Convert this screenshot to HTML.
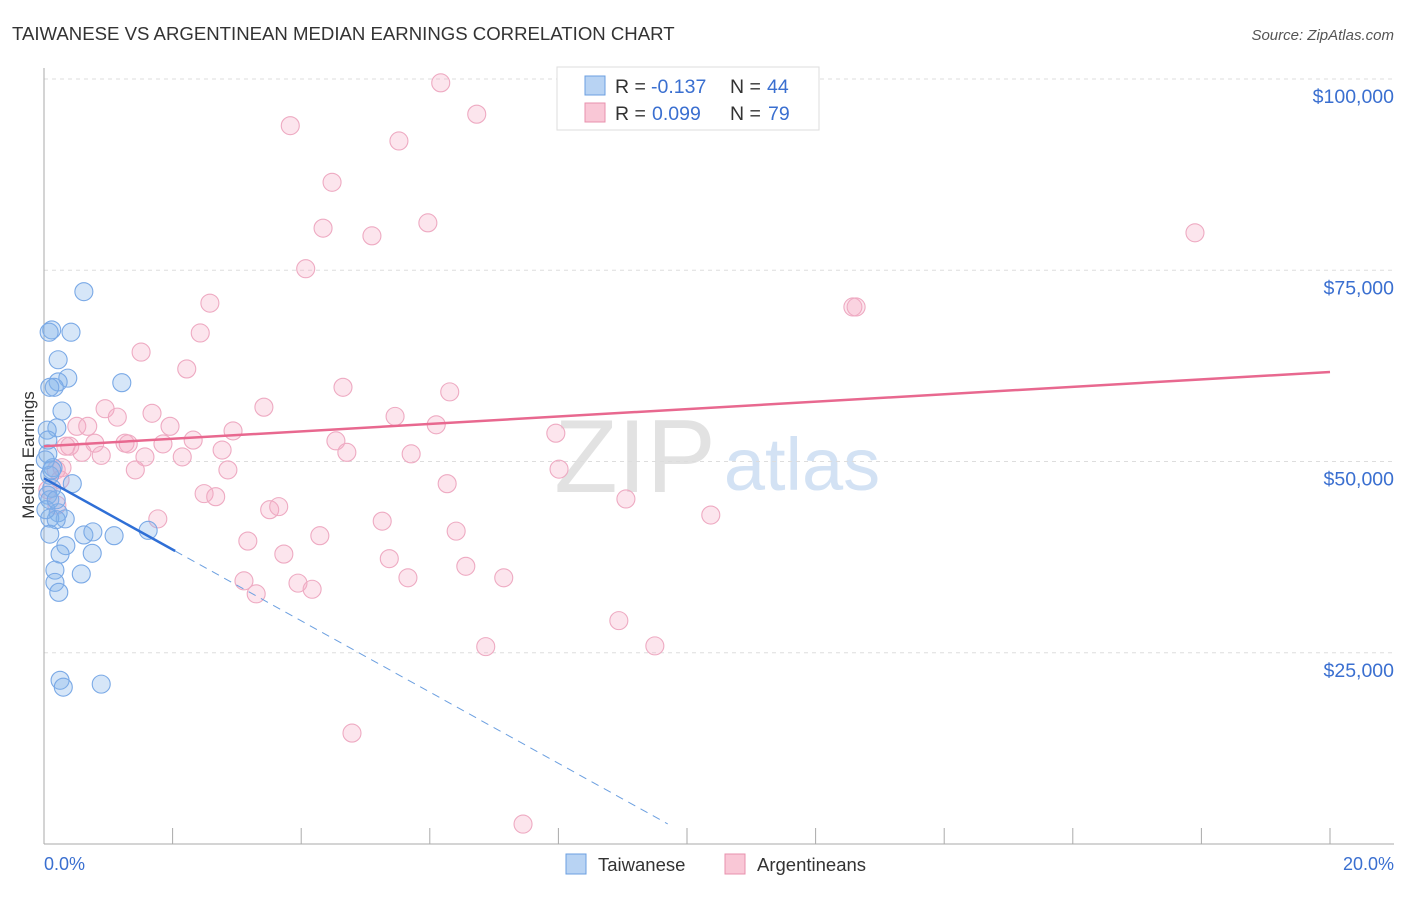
<!DOCTYPE html>
<html><head><meta charset="utf-8"><style>
body{margin:0;background:#fff;font-family:"Liberation Sans",sans-serif;}
svg text{font-family:"Liberation Sans",sans-serif;}
</style></head><body>
<svg id="chart" width="1406" height="892" xmlns="http://www.w3.org/2000/svg">
<text x="12" y="40" font-size="18.6" fill="#333">TAIWANESE VS ARGENTINEAN MEDIAN EARNINGS CORRELATION CHART</text>
<text x="1394" y="40" font-size="15" fill="#555" text-anchor="end" font-style="italic">Source: ZipAtlas.com</text>
<g>
<text x="635" y="492" font-size="104" fill="#e2e2e2" text-anchor="middle" font-family="Liberation Serif">ZIP</text>
<text x="802" y="490" font-size="74" fill="#d3e2f4" text-anchor="middle">atlas</text>
</g>
<g id="grid"></g>
<g id="axes"></g>
<g id="points"></g>
<g id="trends"></g>
<text transform="translate(34,455) rotate(-90)" font-size="17" fill="#333" text-anchor="middle">Median Earnings</text>
<text x="44" y="870" font-size="18" fill="#3a6fd0">0.0%</text>
<text x="1394" y="870" font-size="18" fill="#3a6fd0" text-anchor="end">20.0%</text>
<g>
<rect x="557" y="67" width="262" height="63" fill="#fff" stroke="#ddd"/>
<rect x="585" y="76" width="20" height="19" fill="#b8d3f3" stroke="#6b9fe0"/>
<rect x="585" y="103" width="20" height="19" fill="#f9c7d6" stroke="#e891ad"/>
<text x="615" y="93" font-size="19.5" fill="#333">R =</text>
<text x="651" y="93" font-size="19.5" fill="#3a6fd0">-0.137</text>
<text x="730" y="93" font-size="19.5" fill="#333">N =</text>
<text x="767" y="93" font-size="19.5" fill="#3a6fd0">44</text>
<text x="615" y="120" font-size="19.5" fill="#333">R =</text>
<text x="652" y="120" font-size="19.5" fill="#3a6fd0">0.099</text>
<text x="730" y="120" font-size="19.5" fill="#333">N =</text>
<text x="768" y="120" font-size="19.5" fill="#3a6fd0">79</text>
</g>
<g>
<rect x="566" y="854" width="20" height="20" fill="#b8d3f3" stroke="#6b9fe0"/>
<text x="598" y="871" font-size="18.5" fill="#333">Taiwanese</text>
<rect x="725" y="854" width="20" height="20" fill="#f9c7d6" stroke="#e891ad"/>
<text x="757" y="871" font-size="18.5" fill="#333">Argentineans</text>
</g>
</svg>
<script>
const yTicks=[25000,50000,75000,100000];
const yTickLabels=["$25,000","$50,000","$75,000","$100,000"];
const xTicks=[0,2,4,6,8,10,12,14,16,18,20];
const twX=[0.62,0.12,0.42,0.08,0.22,0.37,1.21,0.22,0.16,0.09,0.28,0.20,0.05,0.06,0.14,0.44,0.09,0.12,0.06,0.09,0.33,0.22,0.09,0.19,0.62,0.76,1.09,1.62,0.09,0.34,0.25,0.75,0.17,0.58,0.17,0.23,0.25,0.30,0.89,0.02,0.03,0.06,0.12,0.19];
const twY=[72.2,67.2,66.9,66.9,63.3,60.9,60.3,60.4,59.7,59.7,56.6,54.4,54.1,51.0,49.2,47.1,48.2,46.5,45.6,45.0,42.5,43.3,42.6,42.4,40.4,40.8,40.3,41.0,40.5,39.0,37.9,38.0,35.8,35.3,34.2,32.9,21.4,20.5,20.9,50.2,43.7,52.8,48.9,45.0];
const arX=[6.17,3.83,6.73,5.52,8.18,4.48,4.34,5.97,5.10,17.90,4.07,2.58,12.58,12.63,2.43,1.51,2.22,4.65,6.31,3.42,0.95,1.68,5.46,1.14,6.10,0.51,0.68,1.96,2.94,4.54,1.26,1.85,2.32,7.96,0.79,0.40,4.71,1.31,0.59,1.57,0.89,2.15,2.77,5.71,8.01,1.42,2.86,0.19,0.28,6.27,2.49,2.67,9.05,10.37,3.51,3.65,1.77,5.26,4.29,6.41,3.17,3.73,0.20,5.37,3.11,6.56,7.15,5.66,3.95,4.17,3.30,8.94,6.87,9.50,4.79,7.45,0.25,0.06,0.34];
const arY=[99.5,93.9,95.4,91.9,94.9,86.5,80.5,81.2,79.5,79.9,75.2,70.7,70.2,70.2,66.8,64.3,62.1,59.7,59.1,57.1,56.9,56.3,55.9,55.8,54.8,54.6,54.6,54.6,54.0,52.7,52.4,52.3,52.8,53.7,52.4,52.0,51.2,52.3,51.2,50.6,50.8,50.6,51.5,51.0,49.0,48.9,48.9,48.9,49.2,47.1,45.8,45.4,45.1,43.0,43.7,44.1,42.5,42.2,40.3,40.9,39.6,37.9,44.3,37.3,34.4,36.3,34.8,34.8,34.1,33.3,32.7,29.2,25.8,25.9,14.5,2.6,47.6,46.3,52.0];
const twTrend=[47.8,38.3];
const twTrendX=[0,2.04,9.7];
const arTrend=[52.0,61.7];
const arTrendX=[0,20];

const NS="http://www.w3.org/2000/svg";
const sx=p=>44+p*64.3;
const sy=k=>844-k*7.65;
function mk(tag,attrs,parent){const e=document.createElementNS(NS,tag);for(const k in attrs)e.setAttribute(k,attrs[k]);parent.appendChild(e);return e;}
const grid=document.getElementById('grid'),axes=document.getElementById('axes');
yTicks.forEach((v,i)=>{
 const y=sy(v/1000);
 const l=mk('line',{x1:44,x2:1394,y1:y,y2:y,stroke:'#ddd','stroke-dasharray':'4,4'},grid);
 
 
 const t=mk('text',{x:1394,y:y+24,'font-size':19.5,fill:'#3a6fd0','text-anchor':'end'},axes);
 t.textContent=yTickLabels[i];
 
 
});
const tg=mk('line',{x1:44,x2:1394,y1:79,y2:79,stroke:'#ddd','stroke-dasharray':'4,4'},grid);


const xa=mk('line',{x1:44,x2:1394,y1:844,y2:844,stroke:'#aaa'},axes);


const ya=mk('line',{x1:44,x2:44,y1:68,y2:844,stroke:'#aaa'},axes);


xTicks.forEach(p=>{
 const t=mk('line',{x1:sx(p),x2:sx(p),y1:828,y2:844,stroke:'#aaa'},axes);
 
 
});
const pts=document.getElementById('points');
arX.forEach((p,i)=>{
 const c=mk('circle',{cx:sx(p),cy:sy(arY[i]),r:9,fill:'rgba(244,170,195,0.3)',stroke:'#eeaac2','stroke-width':1.1},pts);
 
 
});
twX.forEach((p,i)=>{
 const c=mk('circle',{cx:sx(p),cy:sy(twY[i]),r:9,fill:'rgba(130,178,235,0.33)',stroke:'#7aa9e6','stroke-width':1.1},pts);
 
 
});
const tr=document.getElementById('trends');
const slope=(twTrend[1]-twTrend[0])/(twTrendX[1]-twTrendX[0]);
const a=mk('line',{x1:sx(arTrendX[0]),y1:sy(arTrend[0]),x2:sx(arTrendX[1]),y2:sy(arTrend[1]),stroke:'#e8688f','stroke-width':2.5},tr);


const b=mk('line',{x1:sx(twTrendX[0]),y1:sy(twTrend[0]),x2:sx(twTrendX[1]),y2:sy(twTrend[1]),stroke:'#2f6fd6','stroke-width':2.5},tr);


const d=mk('line',{x1:sx(twTrendX[1]),y1:sy(twTrend[1]),x2:sx(twTrendX[2]),y2:sy(twTrend[0]+slope*twTrendX[2]),stroke:'#6b9fe0','stroke-width':1,'stroke-dasharray':'8,6'},tr);


</script>
</body></html>
